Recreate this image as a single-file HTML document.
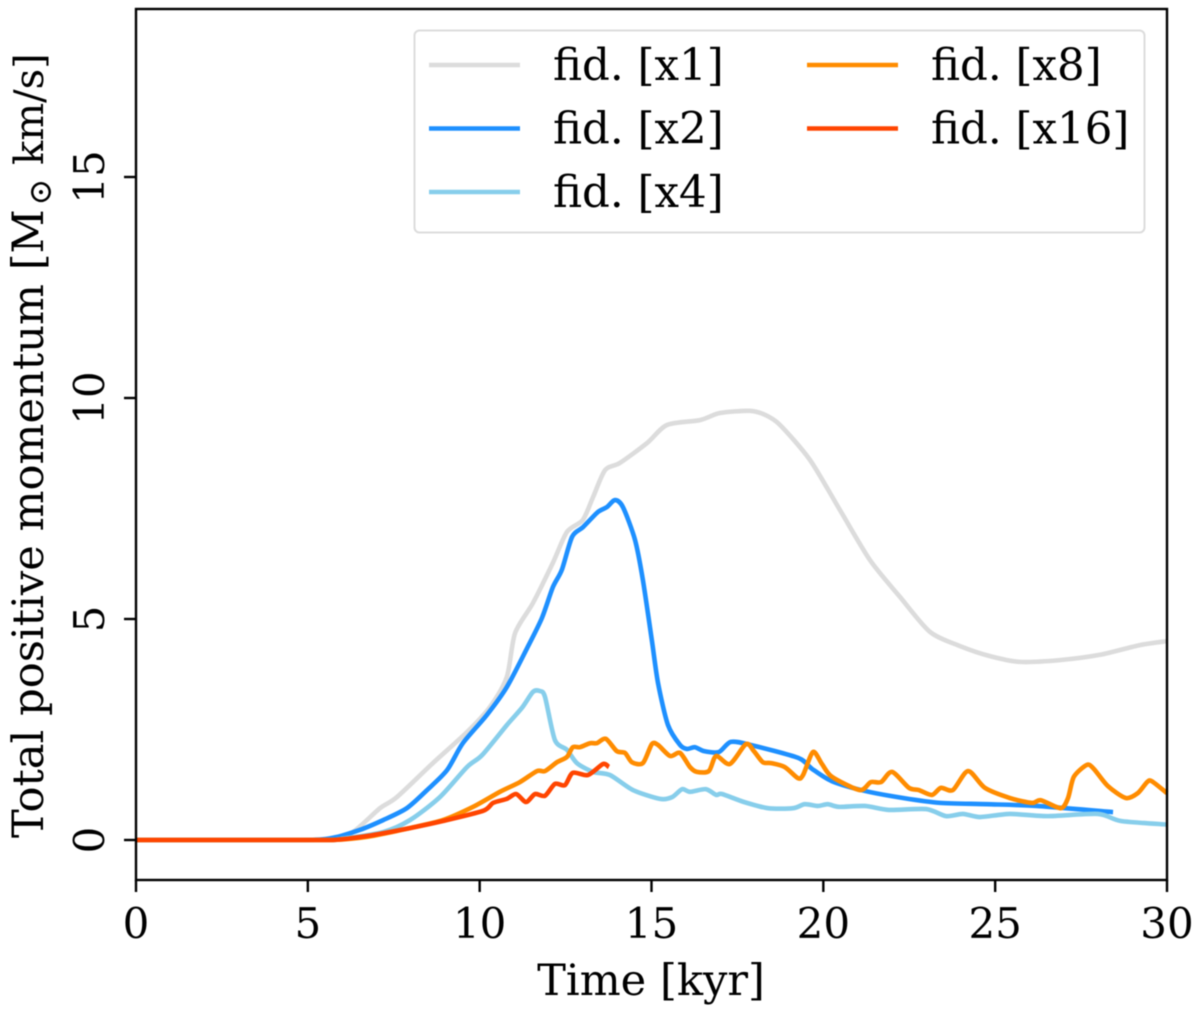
<!DOCTYPE html>
<html lang="en">
<head>
<meta charset="utf-8">
<title>Total positive momentum</title>
<style>
html,body{margin:0;padding:0;background:#fff;width:1200px;height:1013px;overflow:hidden}
svg{display:block;position:absolute;left:0;top:0;filter:blur(0.6px)}
text{font-family:"DejaVu Serif","Liberation Serif",serif;fill:#000}
</style>
</head>
<body>
<svg id="chart" xmlns="http://www.w3.org/2000/svg" width="1200" height="1013" viewBox="0 0 1200 1013">
  <rect x="136" y="9" width="1031" height="871" fill="#fff"/>
  <g id="series" fill="none" stroke-width="4.6" stroke-linejoin="round" stroke-linecap="butt"></g>
  <rect x="136" y="9" width="1031" height="871" fill="none" stroke="#000" stroke-width="2.4"/>
  <g id="x-ticks"></g>
  <g id="y-ticks"></g>
  <text x="651" y="995" font-size="43.2" text-anchor="middle">Time [kyr]</text>
  <text transform="translate(43,838) rotate(-90)" font-size="43.2">Total positive momentum [M<tspan x="632.5" font-size="32" dy="8">⊙</tspan><tspan x="673" dy="-8" font-size="40">km/s]</tspan></text>
  <g>
    <rect x="414.5" y="30.5" width="730" height="202" rx="5" fill="#fff" fill-opacity="0.9" stroke="#dcdcdc" stroke-width="2"/>
    <g id="legend-entries"></g>
  </g>
</svg>
<script>
const xTickLabels = [0, 5, 10, 15, 20, 25, 30];
const yTickLabels = [0, 5, 10, 15];
const seriesNames = ["fid. [x1]", "fid. [x2]", "fid. [x4]", "fid. [x8]", "fid. [x16]"];
const seriesColors = ["#dcdcdc", "#1e90ff", "#87ceeb", "#ff8c00", "#ff4500"];

const timeX1 = [0,4.77,5.64,6.31,7.10,7.59,8.64,9.63,10.30,10.79,11.03,11.55,12.13,12.54,13.0,13.30,13.65,14.08,14.87,15.45,16.41,16.99,17.86,18.3,18.74,19.61,20.48,21.36,22.23,23.10,23.97,24.85,25.72,26.88,28.05,29.21,30];
const momentumX1 = [0,0,0,0.18,0.72,0.97,1.74,2.44,3.01,3.69,4.68,5.36,6.27,6.97,7.24,7.76,8.37,8.53,8.98,9.39,9.50,9.66,9.71,9.62,9.39,8.6,7.47,6.33,5.50,4.71,4.39,4.16,4.03,4.07,4.19,4.41,4.50];

const timeX2 = [0,4.77,5.73,6.52,7.19,7.88,8.47,9.05,9.51,10.21,10.79,11.38,11.81,12.13,12.39,12.69,13.01,13.44,13.70,13.94,14.17,14.52,14.75,15.01,15.19,15.48,15.83,16.03,16.26,16.53,16.96,17.31,17.89,19.26,19.67,20.25,21.21,22.32,23.39,24.76,26.21,28.43];
const momentumX2 = [0,0,0.05,0.23,0.45,0.72,1.13,1.58,2.19,2.83,3.46,4.34,5.02,5.72,6.11,6.86,7.08,7.42,7.53,7.69,7.53,6.79,5.88,4.52,3.55,2.60,2.15,2.06,2.10,2.01,1.99,2.22,2.15,1.86,1.61,1.33,1.11,0.95,0.84,0.81,0.77,0.63];

const timeX4 = [0,4.77,5.73,5.94,7.19,7.97,8.84,9.63,10.07,10.79,11.23,11.55,11.75,11.90,12.19,12.54,12.83,13.30,13.79,14.46,15.25,15.60,15.89,16.12,16.58,16.88,17.05,17.69,18.39,19.12,19.46,19.84,20.13,20.45,21.21,21.91,22.99,23.57,24.06,24.56,25.43,26.51,27.99,28.66,30];
const momentumX4 = [0,0,0,0.02,0.18,0.45,0.97,1.65,1.92,2.60,2.99,3.35,3.37,3.24,2.26,2.04,1.74,1.54,1.47,1.13,0.93,0.97,1.15,1.09,1.15,1.02,1.04,0.86,0.72,0.72,0.81,0.77,0.81,0.75,0.77,0.68,0.70,0.54,0.59,0.52,0.59,0.54,0.59,0.43,0.35];

const timeX8 = [0,4.77,5.73,6.72,7.97,8.93,9.81,10.59,11.17,11.67,11.90,12.25,12.54,12.71,12.92,13.21,13.41,13.67,13.99,14.23,14.43,14.75,15.01,15.19,15.54,15.83,16.12,16.32,16.67,16.88,17.28,17.75,17.98,18.24,18.48,18.88,19.26,19.41,19.70,19.96,20.25,21.06,21.38,21.68,22.0,22.49,22.78,23.16,23.42,23.77,24.21,24.70,25.43,26.07,26.33,26.91,27.12,27.29,27.67,27.87,28.28,28.80,29.15,29.42,29.56,30];
const momentumX8 = [0,0,0,0.07,0.27,0.45,0.75,1.09,1.31,1.56,1.56,1.76,1.88,2.10,2.10,2.19,2.19,2.29,2.01,1.97,1.76,1.74,2.17,2.15,1.90,1.97,1.65,1.54,1.56,1.90,1.72,2.17,2.01,1.76,1.74,1.65,1.40,1.47,1.99,1.72,1.43,1.13,1.31,1.31,1.54,1.18,1.13,1.02,1.18,1.13,1.56,1.18,0.95,0.84,0.90,0.72,0.95,1.43,1.70,1.61,1.22,0.95,1.06,1.31,1.33,1.06];

const timeX16 = [0,4.77,5.73,6.72,7.97,8.93,10.10,10.39,10.79,11.06,11.35,11.61,11.90,12.19,12.48,12.71,13.15,13.59,13.76];
const momentumX16 = [0,0,0,0.09,0.27,0.43,0.66,0.84,0.93,1.04,0.86,1.04,1.0,1.27,1.24,1.52,1.47,1.72,1.65];

const seriesTimes = [timeX1, timeX2, timeX4, timeX8, timeX16];
const seriesValues = [momentumX1, momentumX2, momentumX4, momentumX8, momentumX16];

const SVG_NS = "http://www.w3.org/2000/svg";
const xMin = 0, xMax = 30, plotLeft = 136, plotRight = 1167;
const yPerUnit = 44.2, yZeroPx = 840;
function xScale(t) { return plotLeft + (t - xMin) / (xMax - xMin) * (plotRight - plotLeft); }
function yScale(v) { return yZeroPx - v * yPerUnit; }
function make(tag, attrs) {
  const el = document.createElementNS(SVG_NS, tag);
  for (const k in attrs) el.setAttribute(k, attrs[k]);
  return el;
}
function smoothPath(pts) {
  const k = 0.8 / 6;
  let d = "M" + pts[0][0].toFixed(2) + " " + pts[0][1].toFixed(2);
  for (let i = 0; i < pts.length - 1; i++) {
    const p0 = pts[Math.max(i - 1, 0)], p1 = pts[i], p2 = pts[i + 1], p3 = pts[Math.min(i + 2, pts.length - 1)];
    const c1x = p1[0] + (p2[0] - p0[0]) * k, c1y = p1[1] + (p2[1] - p0[1]) * k;
    const c2x = p2[0] - (p3[0] - p1[0]) * k, c2y = p2[1] - (p3[1] - p1[1]) * k;
    d += "C" + c1x.toFixed(2) + " " + Math.min(c1y, yZeroPx).toFixed(2) + " " + c2x.toFixed(2) + " " + Math.min(c2y, yZeroPx).toFixed(2) + " " + p2[0].toFixed(2) + " " + p2[1].toFixed(2);
  }
  return d;
}

const seriesGroup = document.getElementById("series");
seriesNames.forEach(function (name, i) {
  const pts = seriesTimes[i].map(function (t, j) {
    return [xScale(t), yScale(seriesValues[i][j])];
  });
  const path = make("path", { d: smoothPath(pts), stroke: seriesColors[i] });
  
  
  seriesGroup.appendChild(path);
});

const xGroup = document.getElementById("x-ticks");
xTickLabels.forEach(function (v) {
  const tick = make("line", { x1: xScale(v), x2: xScale(v), y1: 880, y2: 892, stroke: "#000", "stroke-width": 2.4 });
  
  
  xGroup.appendChild(tick);
  const label = make("text", { x: xScale(v), y: 938, "font-size": 42, "text-anchor": "middle" });
  
  
  label.textContent = v;
  xGroup.appendChild(label);
});

const yGroup = document.getElementById("y-ticks");
yTickLabels.forEach(function (v) {
  const tick = make("line", { x1: 124, x2: 136, y1: yScale(v), y2: yScale(v), stroke: "#000", "stroke-width": 2.4 });
  
  
  yGroup.appendChild(tick);
  const label = make("text", { transform: "translate(104," + yScale(v) + ") rotate(-90)", "font-size": 42, "text-anchor": "middle" });
  
  
  label.textContent = v;
  yGroup.appendChild(label);
});

const legendGroup = document.getElementById("legend-entries");
seriesNames.forEach(function (name, i) {
  const col = i < 3 ? 0 : 1;
  const row = i < 3 ? i : i - 3;
  const lx = col === 0 ? 429 : 807;
  const ly = 65 + row * 63.5;
  const swatch = make("line", { x1: lx, x2: lx + 91, y1: ly, y2: ly, stroke: seriesColors[i], "stroke-width": 4.6 });
  
  
  legendGroup.appendChild(swatch);
  const label = make("text", { x: lx + 124, y: ly + 15, "font-size": 43.5 });
  
  
  label.textContent = name;
  legendGroup.appendChild(label);
});
</script>
</body>
</html>
